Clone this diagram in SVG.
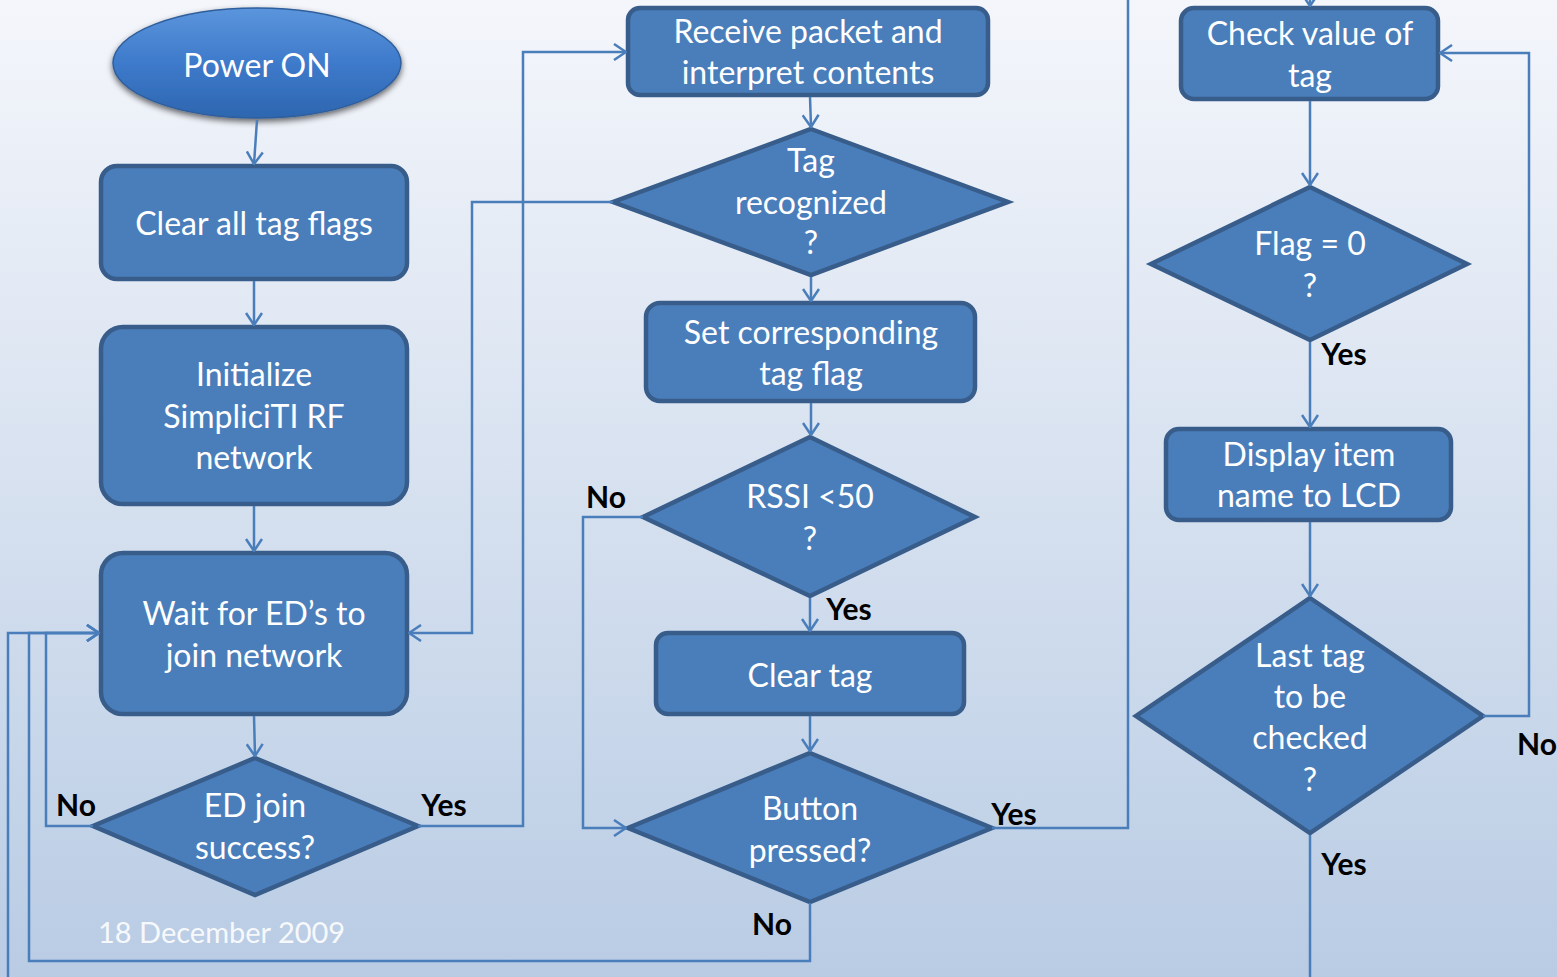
<svg xmlns="http://www.w3.org/2000/svg" width="1557" height="977" viewBox="0 0 1557 977">
<defs>
<linearGradient id="bg" x1="0" y1="0" x2="0" y2="1">
<stop offset="0" stop-color="#f4f6fb"/>
<stop offset="1" stop-color="#b9cce4"/>
</linearGradient>
<linearGradient id="ell" x1="0" y1="0" x2="0" y2="1">
<stop offset="0" stop-color="#5b95dc"/>
<stop offset="0.5" stop-color="#3e7acb"/>
<stop offset="1" stop-color="#2d66b0"/>
</linearGradient>
<filter id="sh" x="-20%" y="-20%" width="140%" height="150%">
<feGaussianBlur in="SourceAlpha" stdDeviation="3"/>
<feOffset dx="0" dy="3" result="b"/>
<feComponentTransfer><feFuncA type="linear" slope="0.6"/></feComponentTransfer>
<feMerge><feMergeNode/><feMergeNode in="SourceGraphic"/></feMerge>
</filter>
<marker id="ah" viewBox="0 0 14 18" refX="13" refY="9" markerWidth="14" markerHeight="18" orient="auto" markerUnits="userSpaceOnUse">
<path d="M1,1 L13,9 L1,17" fill="none" stroke="#4a7ebb" stroke-width="2.5"/>
</marker>
</defs>
<style>
.box{fill:#4a7ebb;stroke:#385d8a;stroke-width:4.5}
.t{font-family:Lato,"Liberation Sans",sans-serif;font-size:32px;fill:#ffffff;text-anchor:middle}
.lb{font-family:Lato,"Liberation Sans",sans-serif;font-size:30px;font-weight:bold;fill:#000000;text-anchor:middle}
.c{fill:none;stroke:#4a7ebb;stroke-width:2.5}
.ca{fill:none;stroke:#4a7ebb;stroke-width:2.5;marker-end:url(#ah)}
</style>
<rect x="0" y="0" width="1557" height="977" fill="url(#bg)"/>

<g id="power-on">
<ellipse cx="257" cy="63" rx="144" ry="55" fill="url(#ell)" stroke="#2f5f9c" stroke-width="1.5" filter="url(#sh)"/>
<text class="t" x="257" y="77">Power ON</text>
</g>
<g id="clear-all">
<rect class="box" x="101" y="166" width="306" height="113" rx="16"/>
<text class="t" x="254" y="235">Clear all tag flags</text>
</g>
<g id="initialize">
<rect class="box" x="101" y="327" width="306" height="177" rx="22"/>
<text class="t" x="254" y="386">Initialize</text>
<text class="t" x="254" y="428">SimpliciTI RF</text>
<text class="t" x="254" y="469">network</text>
</g>
<g id="wait">
<rect class="box" x="101" y="553" width="306" height="161" rx="22"/>
<text class="t" x="254" y="625">Wait for ED’s to</text>
<text class="t" x="254" y="667">join network</text>
</g>
<g id="ed-join">
<polygon class="box" points="255,758 418,826 255,895 93,826"/>
<text class="t" x="255" y="817">ED join</text>
<text class="t" x="255" y="859">success?</text>
</g>
<g id="receive">
<rect class="box" x="628" y="8" width="360" height="87" rx="12"/>
<text class="t" x="808" y="43">Receive packet and</text>
<text class="t" x="808" y="84">interpret contents</text>
</g>
<g id="tag-recognized">
<polygon class="box" points="811,129 1008,202 811,275 613,202"/>
<text class="t" x="811" y="172">Tag</text>
<text class="t" x="811" y="214">recognized</text>
<text class="t" x="811" y="254">?</text>
</g>
<g id="set-flag">
<rect class="box" x="646" y="303" width="329" height="98" rx="14"/>
<text class="t" x="811" y="344">Set corresponding</text>
<text class="t" x="811" y="385">tag flag</text>
</g>
<g id="rssi">
<polygon class="box" points="810,437 975,517 810,596 643,517"/>
<text class="t" x="810" y="508">RSSI &lt;50</text>
<text class="t" x="810" y="550">?</text>
</g>
<g id="clear-tag">
<rect class="box" x="656" y="633" width="308" height="81" rx="12"/>
<text class="t" x="810" y="687">Clear tag</text>
</g>
<g id="button">
<polygon class="box" points="810,753 992,828 810,902 628,828"/>
<text class="t" x="810" y="820">Button</text>
<text class="t" x="810" y="862">pressed?</text>
</g>
<g id="check-value">
<rect class="box" x="1181" y="8" width="257" height="91" rx="13"/>
<text class="t" x="1310" y="45">Check value of</text>
<text class="t" x="1310" y="87">tag</text>
</g>
<g id="flag-zero">
<polygon class="box" points="1310,187 1467,264 1310,340 1151,264"/>
<text class="t" x="1310" y="255">Flag = 0</text>
<text class="t" x="1310" y="297">?</text>
</g>
<g id="display">
<rect class="box" x="1166" y="429" width="285" height="91" rx="13"/>
<text class="t" x="1309" y="466">Display item</text>
<text class="t" x="1309" y="507">name to LCD</text>
</g>
<g id="last-tag">
<polygon class="box" points="1310,598 1483,716 1310,833 1136,716"/>
<text class="t" x="1310" y="667">Last tag</text>
<text class="t" x="1310" y="708">to be</text>
<text class="t" x="1310" y="749">checked</text>
<text class="t" x="1310" y="791">?</text>
</g>

<g id="connectors">
<path class="ca" d="M257,120 L254,164"/>
<path class="ca" d="M254,281 L254,325"/>
<path class="ca" d="M254,506 L254,551"/>
<path class="ca" d="M254,716 L255,756"/>
<path class="ca" d="M93,826 H46 V633 H99"/>
<path class="ca" d="M418,826 H523 V52 H626"/>
<path class="ca" d="M810,97 L811,127"/>
<path class="ca" d="M613,202 H472 V633 H409"/>
<path class="ca" d="M811,277 V301"/>
<path class="ca" d="M811,403 V435"/>
<path class="ca" d="M643,517 H583 V828 H626"/>
<path class="ca" d="M810,598 V631"/>
<path class="ca" d="M810,716 V751"/>
<path class="c" d="M992,828 H1128 V0"/>
<path class="ca" d="M1310,-6 V6"/>
<path class="ca" d="M810,903 V961 H29 V633 H99"/>
<path class="ca" d="M1310,101 V185"/>
<path class="ca" d="M1310,342 V427"/>
<path class="ca" d="M1310,522 V596"/>
<path class="ca" d="M1483,716 H1529 V53 H1440"/>
<path class="c" d="M1310,835 V977"/>
<path class="ca" d="M8,977 V633 H99"/>
</g>

<g id="labels">
<text class="lb" x="76" y="816">No</text>
<text class="lb" x="444" y="816">Yes</text>
<text class="lb" x="606" y="508">No</text>
<text class="lb" x="849" y="620">Yes</text>
<text class="lb" x="1014" y="825">Yes</text>
<text class="lb" x="772" y="935">No</text>
<text class="lb" x="1344" y="365">Yes</text>
<text class="lb" x="1537" y="755">No</text>
<text class="lb" x="1344" y="875">Yes</text>
</g>
<text x="98" y="943" font-family="Lato,'Liberation Sans',sans-serif" font-size="29" fill="#ffffff" fill-opacity="0.9">18 December 2009</text>
</svg>
